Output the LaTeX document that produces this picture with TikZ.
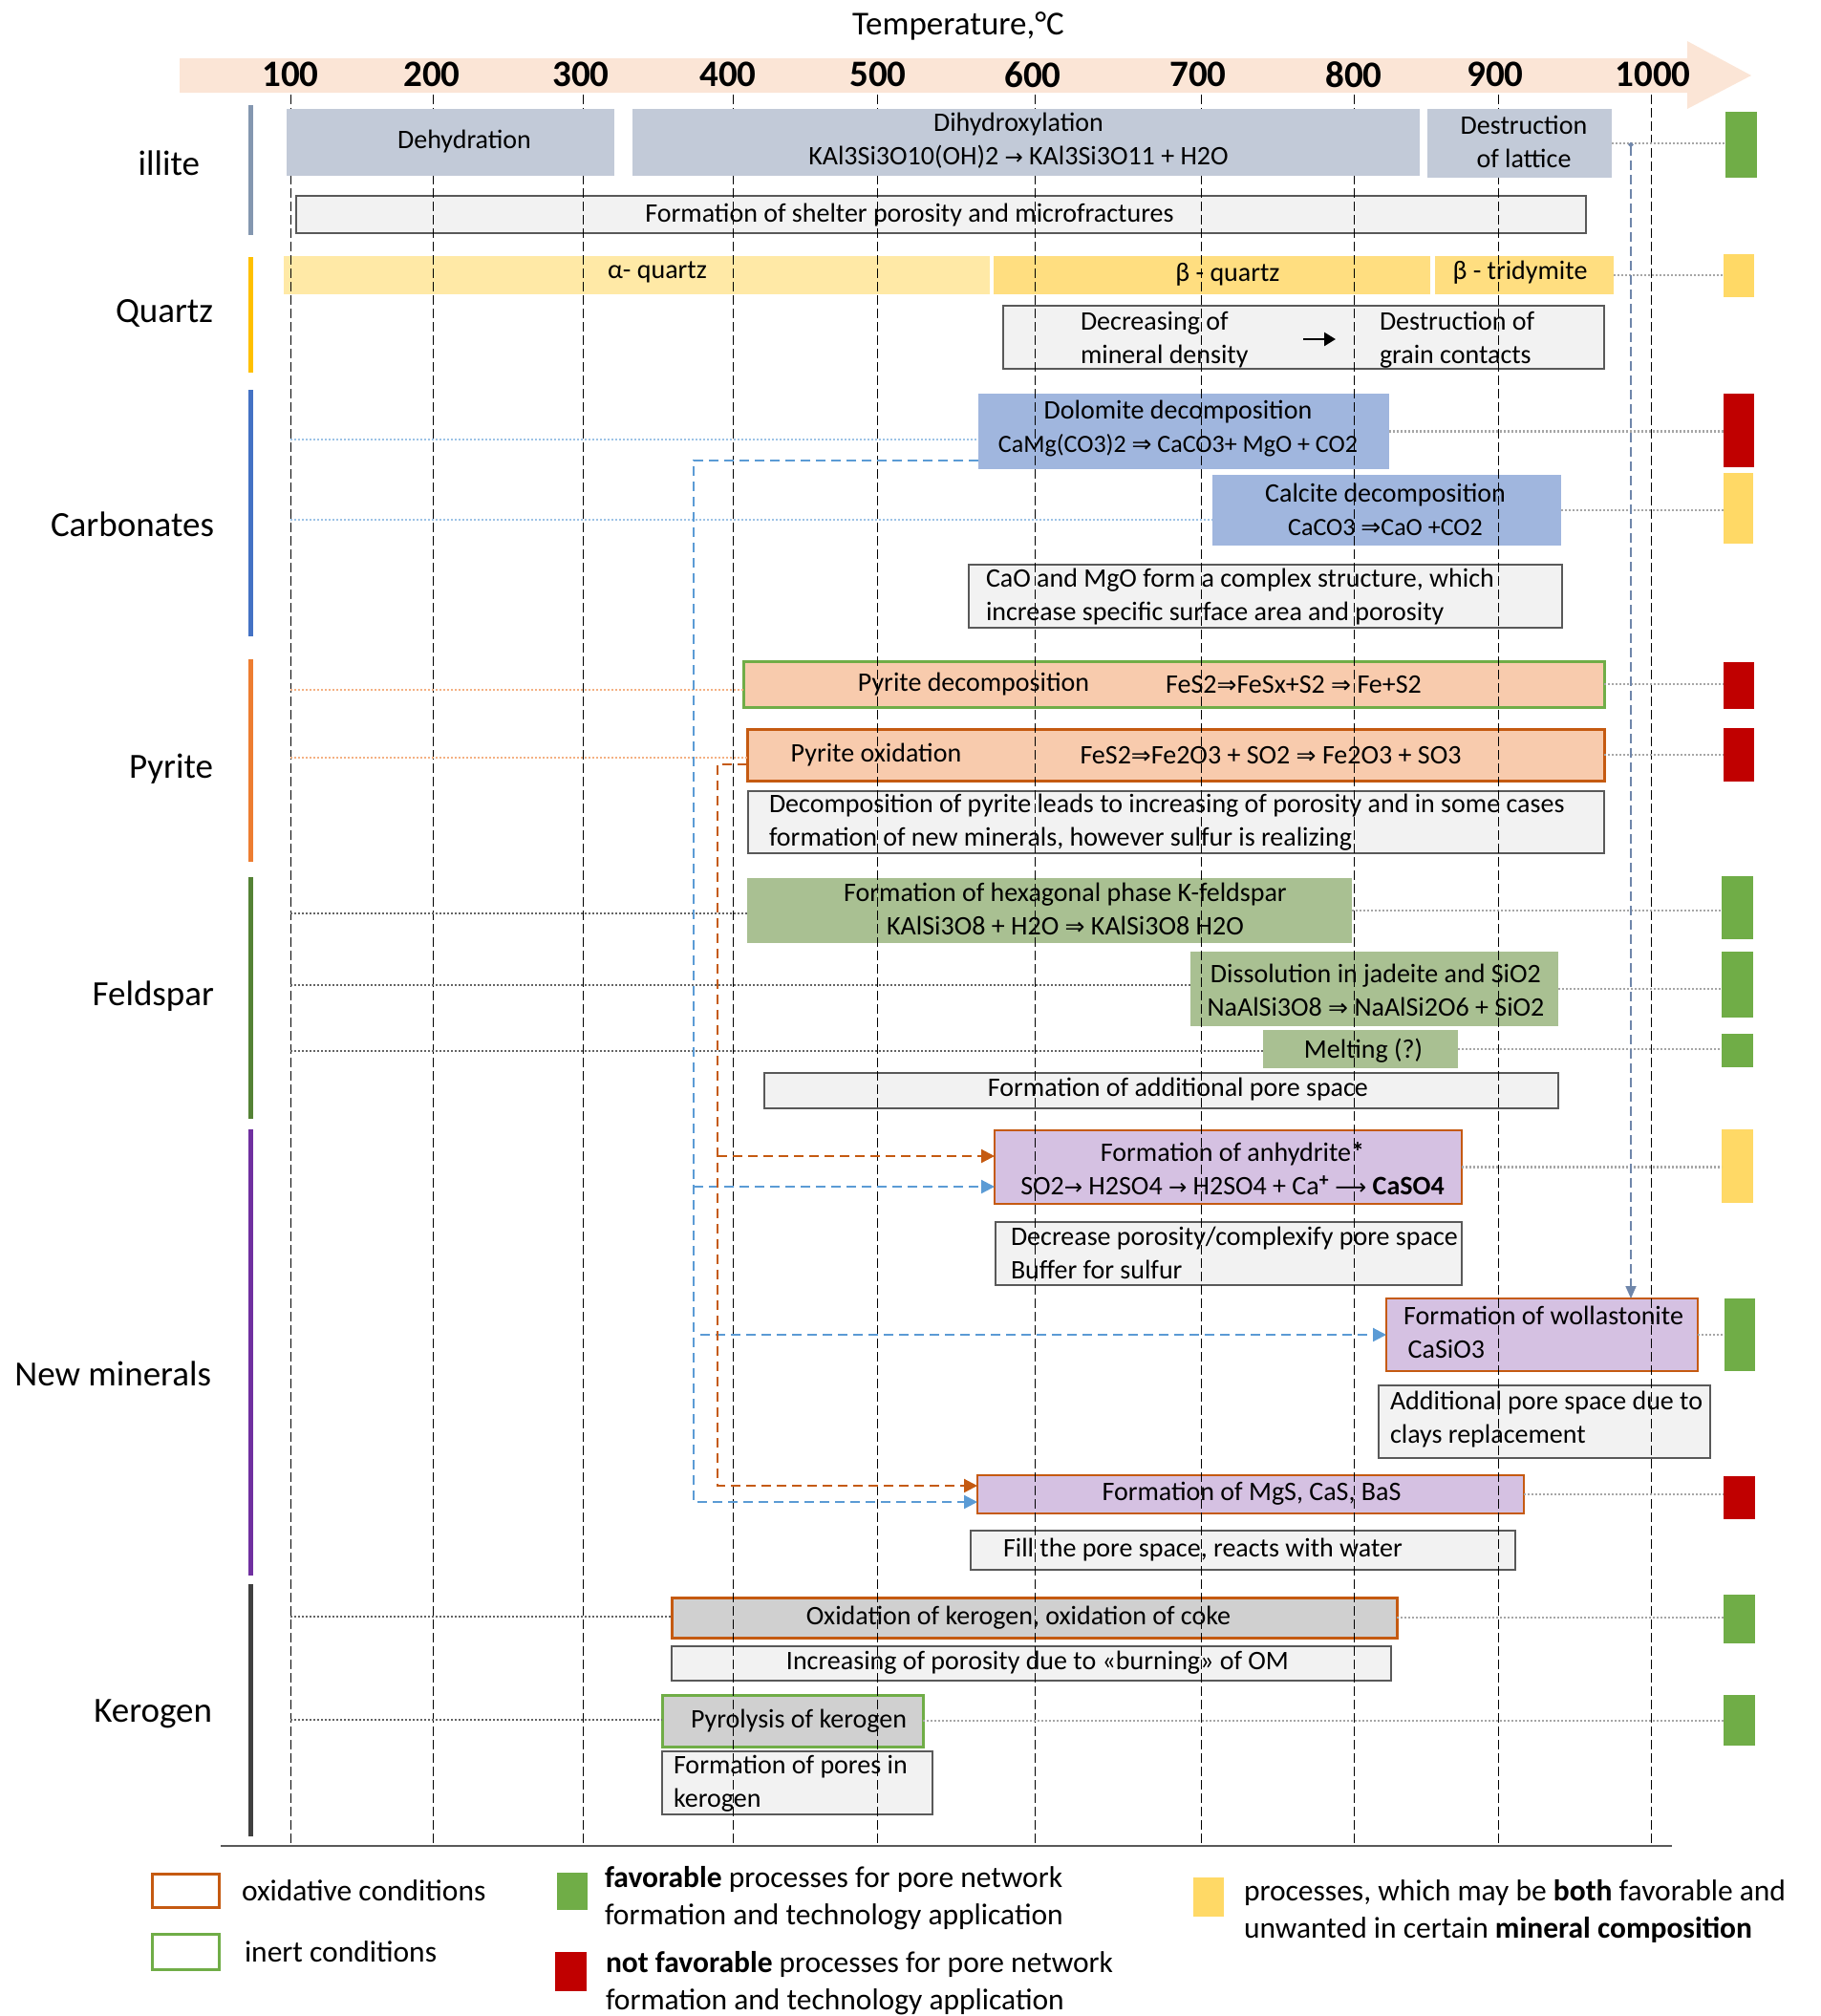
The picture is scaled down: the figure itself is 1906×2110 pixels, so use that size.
\documentclass[tikz,border=0pt]{standalone}
\usepackage{fontspec}
\setmainfont{Carlito}
\newfontfamily\sym{DejaVu Sans}
\usetikzlibrary{arrows.meta}
\definecolor{ilF}{RGB}{194,202,216}
\definecolor{qaF}{RGB}{255,233,166}
\definecolor{qbF}{RGB}{255,222,128}
\definecolor{caF}{RGB}{160,182,222}
\definecolor{pyF}{RGB}{248,203,173}
\definecolor{fsF}{RGB}{169,192,146}
\definecolor{nmF}{RGB}{213,193,226}
\definecolor{kgF}{RGB}{208,208,208}
\definecolor{gyF}{RGB}{242,242,242}
\definecolor{gyB}{RGB}{89,89,89}
\definecolor{orB}{RGB}{197,90,17}
\definecolor{grB}{RGB}{112,173,71}
\definecolor{mkG}{RGB}{112,173,71}
\definecolor{mkR}{RGB}{192,0,0}
\definecolor{mkY}{RGB}{255,217,102}
\definecolor{bandC}{RGB}{251,229,214}
\definecolor{barIl}{RGB}{132,151,176}
\definecolor{barQz}{RGB}{255,192,0}
\definecolor{barCa}{RGB}{68,114,196}
\definecolor{barPy}{RGB}{237,125,49}
\definecolor{barFs}{RGB}{84,130,53}
\definecolor{barNm}{RGB}{112,48,160}
\definecolor{barKg}{RGB}{64,64,64}
\definecolor{blueC}{RGB}{91,155,213}
\definecolor{slateC}{RGB}{111,134,170}
\definecolor{dotBlue}{RGB}{157,195,230}
\definecolor{dotOr}{RGB}{244,177,131}
\definecolor{dotDk}{RGB}{100,100,100}
\definecolor{dotGr}{RGB}{166,166,166}
\newcommand\ra{{\sym\fontsize{23}{23}\selectfont →}}
\newcommand\RA{{\sym\fontsize{25}{25}\selectfont ⇒}}
\newcommand\lra{{\sym\fontsize{23}{23}\selectfont ⟶}}
\newcommand\bx[6]{\node[#6, minimum width={(#4)-(#2)}, minimum height={(#5)-(#3)}] (#1) at ({((#2)+(#4))/2},{((#3)+(#5))/2}) {};}
\tikzset{
  every node/.style={inner sep=0pt, outer sep=0pt},
  txt/.style={font=\fontsize{28}{35}\selectfont, align=center},
  txtl/.style={font=\fontsize{28}{35}\selectfont, align=left, anchor=west},
  cat/.style={font=\fontsize{37}{40}\selectfont, anchor=east},
  tick/.style={font=\fontsize{39}{40}\selectfont\bfseries},
  legt/.style={font=\fontsize{31.5}{39}\selectfont, align=left, anchor=west},
  ilbox/.style={fill=ilF},
  gbox/.style={fill=gyF, draw=gyB, line width=1.5pt},
  qabox/.style={fill=qaF},
  qbbox/.style={fill=qbF},
  cbox/.style={fill=caF},
  pbox/.style={fill=pyF, line width=3pt},
  fbox/.style={fill=fsF},
  nbox/.style={fill=nmF, draw=orB, line width=2.5pt},
  kbox/.style={fill=kgF, line width=3pt},
  mkg/.style={fill=mkG},
  mkr/.style={fill=mkR},
  mky/.style={fill=mkY},
  grid/.style={black, line width=0.8pt, dash pattern=on 10pt off 4pt},
  gdot/.style={dotGr, line width=2.2pt, dash pattern=on 2pt off 2pt},
  bdot/.style={dotBlue, line width=2.2pt, dash pattern=on 2pt off 2pt},
  odot/.style={dotOr, line width=2.2pt, dash pattern=on 2pt off 2pt},
  kdot/.style={dotDk, line width=2.2pt, dash pattern=on 2pt off 2pt},
  bdash/.style={blueC, line width=2.2pt, dash pattern=on 10pt off 6pt, -{Triangle[length=14pt,width=14pt]}},
  odash/.style={orB, line width=2.2pt, dash pattern=on 10pt off 6pt, -{Triangle[length=14pt,width=14pt]}},
  sdash/.style={slateC, line width=1.8pt, dash pattern=on 10pt off 5pt, {Circle[length=5pt]}-{Triangle[length=13pt,width=11pt]}},
  catbar/.style={line width=5pt}
}
\begin{document}
\begin{tikzpicture}[x=1pt,y=-1pt]
\useasboundingbox (0,0) rectangle (1906,2110);
% axis band
\fill[bandC] (188,61) -- (1766,61) -- (1766,43) -- (1833,79) -- (1766,114) -- (1766,97) -- (188,97) -- cycle;
\node[font=\fontsize{35}{40}\selectfont] (title) at (1003,27) {Temperature,°C};
\foreach \v/\x in {100/304,200/452,300/608,400/762,500/919,600/1081,700/1254,800/1417,900/1565,1000/1730}
  \node[tick] (t\v) at (\x,78) {\v};
% category bars
\draw[catbar, barIl] (262,110) -- (262,246);
\draw[catbar, barQz] (262,269) -- (262,390);
\draw[catbar, barCa] (262,408) -- (262,666);
\draw[catbar, barPy] (262,690) -- (262,902);
\draw[catbar, barFs] (262,918) -- (262,1171);
\draw[catbar, barNm] (262,1182) -- (262,1649);
\draw[catbar, barKg] (262,1658) -- (262,1922);
% category labels
\node[cat] (c-il) at (209,171) {illite};
\node[cat] (c-qz) at (223,328) {Quartz};
\node[cat] (c-ca) at (224,549) {Carbonates};
\node[cat] (c-py) at (223,805) {Pyrite};
\node[cat] (c-fs) at (224,1043) {Feldspar};
\node[cat] (c-nm) at (221,1438) {New minerals};
\node[cat] (c-kg) at (222,1794) {Kerogen};
% boxes (below grid)
\bx{sh}{310}{205}{1660}{244}{gbox}
\bx{qa}{297}{268}{1036}{308}{qabox}
\bx{qb}{1040}{268}{1497}{308}{qbbox}
\bx{qt}{1502}{268}{1689}{308}{qbbox}
\bx{qd}{1050}{320}{1679}{386}{gbox}
\bx{do}{1024}{412}{1454}{491}{cbox}
\bx{ca}{1269}{497}{1634}{571}{cbox}
\bx{cm}{1014}{591}{1635}{657}{gbox}
\bx{pd}{778}{692}{1679}{740}{pbox, draw=grB}
\bx{po}{782}{763}{1679}{817}{pbox, draw=orB}
\bx{pt}{783}{828}{1679}{893}{gbox}
\bx{kf}{782}{919}{1415}{987}{fbox}
\bx{ja}{1246}{996}{1631}{1074}{fbox}
\bx{me}{1322}{1078}{1526}{1118}{fbox}
\bx{ap}{800}{1123}{1631}{1160}{gbox}
\bx{an}{1041}{1183}{1530}{1260}{nbox}
\bx{dp}{1042}{1279}{1530}{1345}{gbox}
\bx{wo}{1451}{1359}{1777}{1435}{nbox}
\bx{cl}{1443}{1450}{1790}{1526}{gbox}
\bx{mg}{1023}{1544}{1595}{1584}{nbox}
\bx{fi}{1016}{1602}{1586}{1643}{gbox}
\bx{ok}{703}{1672}{1462}{1714}{kbox, draw=orB}
\bx{ib}{703}{1723}{1456}{1759}{gbox}
\bx{pk}{693}{1774}{966}{1828}{kbox, draw=grB}
\bx{fp}{693}{1833}{976}{1899}{gbox}
% grid
\foreach \x in {304,453,610,767,918,1083,1257,1417,1568,1728}
  \draw[grid] (\x,99) -- (\x,1932);
\draw[line width=2pt, gyB] (231,1932) -- (1750,1932);
% illite boxes (above grid)
\bx{dh}{300}{114}{643}{184}{ilbox}
\bx{dx}{662}{114}{1486}{184}{ilbox}
\bx{dl}{1494}{114}{1687}{186}{ilbox}
% markers
\bx{m-il}{1806}{117}{1839}{186}{mkg}
\bx{m-qz}{1804}{266}{1836}{311}{mky}
\bx{m-do}{1804}{412}{1836}{489}{mkr}
\bx{m-ca}{1804}{495}{1835}{569}{mky}
\bx{m-pd}{1804}{693}{1836}{742}{mkr}
\bx{m-po}{1804}{762}{1836}{818}{mkr}
\bx{m-kf}{1802}{917}{1835}{983}{mkg}
\bx{m-ja}{1802}{996}{1835}{1065}{mkg}
\bx{m-me}{1802}{1082}{1835}{1117}{mkg}
\bx{m-an}{1802}{1182}{1835}{1259}{mky}
\bx{m-wo}{1805}{1359}{1837}{1435}{mkg}
\bx{m-mg}{1804}{1545}{1837}{1590}{mkr}
\bx{m-ok}{1804}{1669}{1837}{1720}{mkg}
\bx{m-pk}{1804}{1774}{1837}{1827}{mkg}
% right dotted connectors
\foreach \b/\m in {dl/m-il, qt/m-qz, do/m-do, ca/m-ca, pd/m-pd, po/m-po, kf/m-kf, ja/m-ja, me/m-me, an/m-an, wo/m-wo, mg/m-mg, ok/m-ok, pk/m-pk}
  \draw[gdot] (\b.east) -- (\b.east -| \m.west);
% left dotted connectors
\coordinate (l-do) at (304,460);
\coordinate (l-ca) at (304,544);
\coordinate (l-pd) at (304,722);
\coordinate (l-po) at (304,793);
\coordinate (l-kf) at (304,956);
\coordinate (l-ja) at (304,1031);
\coordinate (l-me) at (304,1100);
\coordinate (l-ok) at (304,1692);
\coordinate (l-pk) at (304,1800);
\draw[bdot] (l-do) -- (l-do -| do.west);
\draw[bdot] (l-ca) -- (l-ca -| ca.west);
\draw[odot] (l-pd) -- (l-pd -| pd.west);
\draw[odot] (l-po) -- (l-po -| po.west);
\draw[kdot] (l-kf) -- (l-kf -| kf.west);
\draw[kdot] (l-ja) -- (l-ja -| ja.west);
\draw[kdot] (l-me) -- (l-me -| me.west);
\draw[kdot] (l-ok) -- (l-ok -| ok.west);
\draw[kdot] (l-pk) -- (l-pk -| pk.west);
% blue dashed (carbonates -> new minerals)
\coordinate (bv1) at (726,482);
\coordinate (bv2) at (726,1572);
\coordinate (bA) at (726,1242);
\coordinate (bW) at (733,1397);
\draw[bdash] (bv1 -| do.west) -- (bv1) -- (bv2) -- (bv2 -| mg.west);
\draw[bdash] (bA) -- (bA -| an.west);
\draw[bdash] (bW) -- (bW -| wo.west);
% orange dashed (pyrite oxidation -> new minerals)
\coordinate (ov1) at (751,800);
\coordinate (ov2) at (751,1555);
\coordinate (oA) at (751,1210);
\draw[odash] (ov1 -| po.west) -- (ov1) -- (ov2) -- (ov2 -| mg.west);
\draw[odash] (oA) -- (oA -| an.west);
% slate dashed (illite destruction -> wollastonite)
\coordinate (sv1) at (1707,149);
\draw[sdash] (sv1) -- (sv1 |- wo.north);
% texts
\node[txt] (dh-t) at (486,148) {Dehydration};
\node[txt] (dx-t) at (1066,147) {Dihydroxylation\\KAl3Si3O10(OH)2 \ra{} KAl3Si3O11 + H2O};
\node[txt] (dl-t) at (1595,148) {Destruction\\of lattice};
\node[txt] (sh-t) at (952,225) {Formation of shelter porosity and microfractures};
\node[txt] (qa-t) at (688,285) {α- quartz};
\node[txt] (qb-t) at (1285,287) {β - quartz};
\node[txt] (qt-t) at (1591,285) {β - tridymite};
\node[txtl] (qd-t1) at (1131,356) {Decreasing of\\mineral density};
\node[txtl] (qd-t2) at (1444,356) {Destruction of\\grain contacts};
\coordinate (qd-a1) at (1364,355);
\coordinate (qd-a2) at (1398,355);
\draw[line width=2.5pt, -{Triangle[length=12pt,width=14pt]}] (qd-a1) -- (qd-a2);
\node[txt] (do-t) at (1233,449) {Dolomite decomposition\\{\fontsize{26}{35}\selectfont CaMg(CO3)2 \RA{} CaCO3+ MgO + CO2}};
\node[txt] (ca-t) at (1450,533) {Calcite decomposition\\{\fontsize{26}{35}\selectfont CaCO3 \RA{}CaO +CO2}};
\node[txtl] (cm-t) at (1032,625) {CaO and MgO form a complex structure, which\\increase specific surface area and porosity};
\node[txt] (pd-t1) at (1019,716) {Pyrite decomposition};
\node[txt] (pd-t2) at (1354,716) {FeS2\RA{}FeSx+S2 \RA{} Fe+S2};
\node[txt] (po-t1) at (917,790) {Pyrite oxidation};
\node[txt] (po-t2) at (1330,790) {FeS2\RA{}Fe2O3 + SO2 \RA{} Fe2O3 + SO3};
\node[txtl] (pt-t) at (805,861) {Decomposition of pyrite leads to increasing of porosity and in some cases\\formation of new minerals, however sulfur is realizing};
\node[txt] (kf-t) at (1115,951) {Formation of hexagonal phase K-feldspar\\KAlSi3O8 + H2O \RA{} KAlSi3O8 H2O};
\node[txt] (ja-t) at (1440,1036) {Dissolution in jadeite and SiO2\\NaAlSi3O8 \RA{} NaAlSi2O6 + SiO2};
\node[txt] (me-t) at (1427,1100) {Melting (?)};
\node[txt] (ap-t) at (1233,1140) {Formation of additional pore space};
\node[txt] (an-t) at (1290,1223) {Formation of anhydrite\textbf{*}\\SO2\ra{} H2SO4 \ra{} H2SO4 + Ca\textsuperscript{\textbf{+}} \lra{} \textbf{CaSO4}};
\node[txtl] (dp-t) at (1058,1311) {Decrease porosity/complexify pore space\\Buffer for sulfur};
\node[txtl] (wo-t) at (1469,1394) {Formation of wollastonite\\\,CaSiO3};
\node[txtl] (cl-t) at (1455,1486) {Additional pore space due to\\clays replacement};
\node[txt] (mg-t) at (1310,1563) {Formation of MgS, CaS, BaS};
\node[txtl] (fi-t) at (1050,1622) {Fill the pore space, reacts with water};
\node[txt] (ok-t) at (1066,1693) {Oxidation of kerogen, oxidation of coke};
\node[txt] (ib-t) at (1086,1740) {Increasing of porosity due to «burning» of OM};
\node[txt] (pk-t) at (836,1801) {Pyrolysis of kerogen};
\node[txtl] (fp-t) at (705,1867) {Formation of pores in\\kerogen};
% legend
\bx{lg-o}{159}{1961}{229}{1996}{draw=orB, line width=3pt, fill=white}
\node[legt] (lg-o-t) at (253,1979) {oxidative conditions};
\bx{lg-i}{159}{2024}{229}{2061}{draw=grB, line width=3pt, fill=white}
\node[legt] (lg-i-t) at (256,2043) {inert conditions};
\bx{lg-g}{583}{1960}{615}{1999}{mkg}
\node[legt] (lg-g-t) at (633,1987) {\textbf{favorable} processes for pore network\\formation and technology application};
\bx{lg-r}{581}{2043}{614}{2084}{mkr}
\node[legt] (lg-r-t) at (634,2076) {\textbf{not favorable} processes for pore network\\formation and technology application};
\bx{lg-y}{1249}{1965}{1281}{2006}{mky}
\node[legt] (lg-y-t) at (1302,2000) {processes, which may be \textbf{both} favorable and\\unwanted in certain \textbf{mineral composition}};
\end{tikzpicture}
\end{document}
